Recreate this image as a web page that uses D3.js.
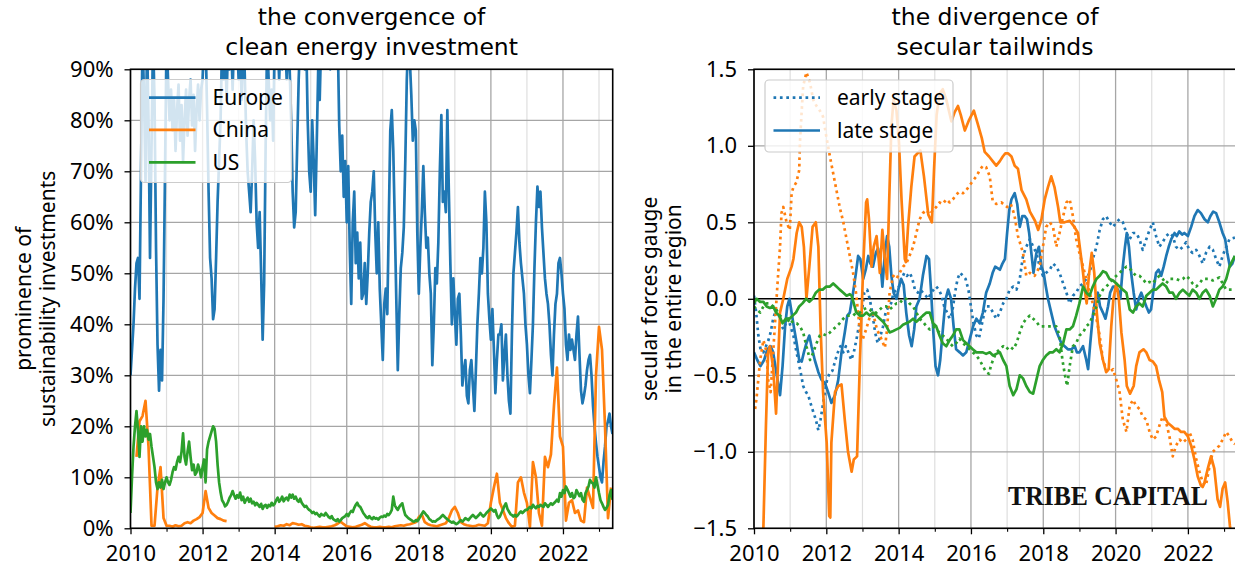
<!DOCTYPE html>
<html>
<head>
<meta charset="utf-8">
<script src="https://cdn.jsdelivr.net/npm/d3@7/dist/d3.min.js"></script>
<style>
html,body{margin:0;padding:0;background:#fff;}
svg{display:block;}
</style>
</head>
<body>
<svg id="chart" width="1235" height="567"></svg>
<script>
// ================= DATA =================
const majorYears = [2010, 2012, 2014, 2016, 2018, 2020, 2022];
const minorYears = [2011, 2013, 2015, 2017, 2019, 2021, 2023];
const leftTicks = [0, 10, 20, 30, 40, 50, 60, 70, 80, 90];
const rightTicks = [-1.5, -1.0, -0.5, 0, 0.5, 1.0, 1.5];
const leftTitle = ["the convergence of", "clean energy investment"];
const rightTitle = ["the divergence of", "secular tailwinds"];
const leftYLabel = ["prominence of", "sustainability investments"];
const rightYLabel = ["secular forces gauge", "in the entire region"];
const regions = ["Europe", "China", "US"];
const stages = ["early stage", "late stage"];
const brand = "TRIBE CAPITAL";

// Left panel (% share). Europe & US: twice a month from Jan 2010. China: monthly from Jan 2010.
const europeShare = [
 30,35,40,47,52,53,45,70,96,85,68,96,80,53,75,96,84,55,36,27,35,29,45,70,
 96,88,80,86,78,84,74,82,87,76,83,72,80,86,77,84,88,79,85,74,82,87,80,86,
 88,96,96,82,66,53,49,41,43,53,64,72,80,96,88,96,84,96,90,96,86,96,92,96,
 88,96,84,96,90,78,70,66,62,70,80,72,60,55,62,50,37,48,75,96,88,80,86,76,
 96,92,96,88,96,90,96,96,88,96,90,80,66,59,62,75,88,96,96,96,90,96,80,70,
 66,80,72,61.4,75,90,84,96,96,96,92,96,96,90,96,96,96,92,96,79,70,77,65,72,
 60,71,55,44,60,66,52,58,49,56,45,46,52,44,50,58,64,66,70,58,50,60,47,40,
 33,44,47,42,60,78,82,74,60,45,31,42,51,54,59,72,88,96,92,85,76,80,78,58,
 46,55,62,71,62,55,57,50,46,32,40,51,48,56,70,81,64,66,62,82,66,52,40,49,
 42,36,45,46,38,28,31,33,26,24.5,31,33,28,23,31,40,46,53,50,55,66,60,46,41,
 37,43,35,26.5,33,38,38,40,29,34,38,30,25,22.5,38,50,54,58,63,56,52,49,46,40,
 36,30,26.5,33,40,51,60,67,63,66,59,54,49,46,44,40,34,30,38,44,46,52,53,50,
 46,43,36,33,38,35,37,35,33,38,41.5,34,27,24.5,26,28,31,33,34,30,24,20,16.7,14,
 12,10,9,13,16,20,21,22.5,20,18.5
];
const chinaShare = [
 null,null,14,21,22,25,16,0.5,0.5,8,12,2,
 0.5,0.5,0.3,0.6,0.4,0.5,1.0,1.2,1.0,1.5,1.8,2.2,
 3,7.3,4,3,2.5,2,1.8,1.5,1.4,null,null,null,
 null,null,null,null,null,null,null,null,null,null,null,null,
 0.3,0.4,0.6,0.5,0.8,0.6,1.0,0.9,0.7,0.8,0.5,0.4,
 0.2,0.1,0.2,0.3,0.2,0.2,0.3,0.4,0.6,0.9,1.3,0.8,
 0.4,0.3,0.2,0.3,0.5,0.7,1.0,0.6,0.3,0.2,0.2,0.3,
 0.2,0.2,0.3,0.2,0.4,0.5,0.6,0.5,0.7,0.8,1.0,1.2,
 2.2,2.7,1.2,0.8,0.6,0.5,0.4,0.6,0.8,1.0,2.0,3.5,
 4.2,3.0,1.2,0.8,0.6,0.5,0.4,0.5,0.7,0.6,0.5,1.0,
 5,8,10.7,5,3.6,2,1,0.3,0.5,9,10,7,
 5,0.3,13,10,3,0.5,14,12,14.5,24,31.5,18,
 16,1.5,5,5.5,3,3.5,1.5,1.2,8,6,4,30,
 39.5,35,20,2,8
];
const usShare = [
 3,10,16,20,23,19,14,20,17,20,18,19.3,17.4,18.5,16,14,12,9,7.7,9,8,9.5,7.7,9,
 10,9,8.5,9.5,11,12,11.5,13,14,13,15,18.6,14,12.5,15,17,14,11.4,12.5,10.5,11,12.5,11.5,10,
 12,13.5,9,15.5,17,18,19,20,19.5,17,12.5,9,7,5.5,5,4.3,4.6,5.2,6,6.5,7.3,6.5,5.8,6.5,
 6,7,5.5,6.2,5,5.6,6,5.2,5.8,4.9,5.2,4.5,5,4.6,4.2,4.8,3.8,4.4,4.6,4.0,4.6,4.3,5.0,4.5,
 4.8,5.5,6.0,5.2,5.6,6.2,5.3,5.8,6.0,5.5,6.6,6.0,6.6,5.8,6.2,5.5,5.2,5.8,5.0,4.6,4.2,4.4,3.9,3.6,
 3.4,3.0,3.2,2.8,3.0,2.6,2.3,2.8,2.6,2.5,3.0,2.6,2.2,2.0,2.4,1.8,1.6,1.4,1.8,1.3,1.6,2.0,2.2,2.4,
 2.8,2.4,3.0,3.4,3.2,4.0,4.6,5.0,4.4,4.2,3.6,3.0,2.6,2.2,2.0,2.4,2.0,1.8,2.2,1.9,2.0,1.7,2.1,2.3,
 2.2,2.5,2.3,2.8,2.6,3.0,3.6,6.2,4.5,4.0,3.6,4.2,4.6,4.9,3.6,2.6,2.3,2.0,1.8,1.6,1.4,1.3,1.6,1.4,
 1.8,2.3,2.8,3.3,3.0,2.6,2.3,1.8,1.6,1.3,1.4,1.3,1.6,1.8,2.0,2.3,2.6,2.3,2.0,1.8,1.5,1.3,1.1,1.3,
 1.0,0.8,1.0,1.3,1.6,1.3,1.6,2.0,1.8,1.6,2.0,2.3,2.6,2.3,2.0,2.3,2.6,3.0,2.6,2.3,2.6,3.0,3.3,3.6,
 3.9,3.6,3.3,3.6,2.6,2.0,2.3,3.0,3.6,4.4,4.9,3.8,3.3,2.8,2.6,2.3,2.6,2.3,2.6,3.0,3.3,3.0,3.3,3.6,
 3.6,3.9,4.2,3.9,4.6,4.2,3.9,4.4,4.2,4.6,4.4,4.2,4.9,4.6,4.2,4.6,4.9,4.6,4.9,5.2,5.6,5.2,6.9,6.2,
 7.5,6.9,8.2,7.6,6.9,6.2,6.9,5.9,6.2,7.5,6.9,6.3,6.9,5.6,5.2,6.9,7.5,8.2,9.5,9.0,8.8,8.0,10,8.5,
 6.9,5.5,4.9,4.2,3.6,4.0,4.6,6.5,7.5,5.6
];

// Right panel: [year, gauge]
const europeEarly = [[2010.0,0.02],[2010.06,-0.09],[2010.12,-0.24],[2010.18,-0.33],[2010.26,-0.35],[2010.33,-0.31],[2010.4,-0.27],[2010.46,-0.22],[2010.53,-0.13],[2010.61,-0.07],[2010.67,-0.09],[2010.74,-0.16],[2010.81,-0.2],[2010.88,-0.16],[2010.95,-0.13],[2011.01,-0.18],[2011.09,-0.24],[2011.16,-0.33],[2011.22,-0.4],[2011.29,-0.48],[2011.36,-0.57],[2011.44,-0.61],[2011.5,-0.63],[2011.56,-0.68],[2011.64,-0.74],[2011.71,-0.79],[2011.78,-0.86],[2011.84,-0.79],[2011.9,-0.7],[2011.96,-0.61],[2012.02,-0.53],[2012.1,-0.48],[2012.17,-0.47],[2012.25,-0.4],[2012.32,-0.35],[2012.39,-0.31],[2012.47,-0.35],[2012.54,-0.31],[2012.61,-0.35],[2012.69,-0.4],[2012.76,-0.35],[2012.83,-0.27],[2012.9,-0.18],[2012.98,-0.09],[2013.05,0.04],[2013.13,0.06],[2013.2,0.0],[2013.27,-0.09],[2013.35,-0.22],[2013.42,-0.29],[2013.5,-0.24],[2013.57,-0.18],[2013.64,-0.09],[2013.72,-0.05],[2013.79,-0.03],[2013.86,0.04],[2013.94,0.06],[2014.01,0.08],[2014.08,0.13],[2014.16,0.17],[2014.23,0.15],[2014.31,0.17],[2014.38,0.13],[2014.45,0.06],[2014.53,0.04],[2014.6,0.06],[2014.67,0.04],[2014.75,0.02],[2014.82,0.0],[2014.9,0.04],[2014.97,0.06],[2015.04,0.08],[2015.11,0.06],[2015.19,0.02],[2015.26,-0.05],[2015.34,-0.09],[2015.41,-0.13],[2015.48,-0.09],[2015.56,0.04],[2015.63,0.13],[2015.7,0.17],[2015.78,0.15],[2015.85,0.13],[2015.93,0.06],[2016.0,-0.05],[2016.07,-0.16],[2016.15,-0.24],[2016.22,-0.26],[2016.29,-0.18],[2016.37,-0.09],[2016.44,-0.05],[2016.52,-0.05],[2016.61,-0.09],[2016.7,-0.13],[2016.8,-0.09],[2016.89,-0.03],[2016.98,0.0],[2017.07,0.06],[2017.17,0.08],[2017.26,0.06],[2017.35,0.13],[2017.44,0.28],[2017.53,0.34],[2017.63,0.39],[2017.72,0.34],[2017.81,0.3],[2017.9,0.21],[2017.99,0.15],[2018.08,0.17],[2018.18,0.19],[2018.27,0.23],[2018.36,0.21],[2018.45,0.17],[2018.55,0.1],[2018.64,0.04],[2018.73,-0.03],[2018.82,0.02],[2018.91,0.04],[2019.0,0.08],[2019.1,0.1],[2019.19,0.13],[2019.28,0.17],[2019.37,0.26],[2019.47,0.34],[2019.56,0.45],[2019.65,0.52],[2019.74,0.54],[2019.83,0.5],[2019.93,0.47],[2020.02,0.5],[2020.11,0.52],[2020.2,0.5],[2020.3,0.43],[2020.39,0.39],[2020.48,0.43],[2020.57,0.43],[2020.66,0.39],[2020.75,0.32],[2020.85,0.39],[2020.94,0.45],[2021.03,0.5],[2021.12,0.41],[2021.21,0.34],[2021.3,0.37],[2021.4,0.41],[2021.49,0.43],[2021.58,0.41],[2021.67,0.34],[2021.77,0.32],[2021.86,0.34],[2021.95,0.37],[2022.04,0.32],[2022.13,0.3],[2022.23,0.32],[2022.32,0.28],[2022.41,0.23],[2022.5,0.3],[2022.6,0.34],[2022.69,0.32],[2022.78,0.26],[2022.87,0.21],[2022.96,0.28],[2023.06,0.34],[2023.15,0.39],[2023.3,0.4]];
const europeLate = [[2010.0,-0.35],[2010.09,-0.4],[2010.18,-0.44],[2010.28,-0.4],[2010.37,-0.33],[2010.46,-0.31],[2010.53,-0.35],[2010.63,-0.5],[2010.72,-0.63],[2010.79,-0.44],[2010.86,-0.18],[2010.92,-0.05],[2010.98,0.0],[2011.04,-0.09],[2011.1,-0.18],[2011.18,-0.29],[2011.25,-0.4],[2011.32,-0.41],[2011.38,-0.35],[2011.45,-0.29],[2011.53,-0.24],[2011.59,-0.31],[2011.68,-0.4],[2011.78,-0.48],[2011.87,-0.53],[2011.96,-0.55],[2012.05,-0.61],[2012.14,-0.68],[2012.24,-0.63],[2012.33,-0.53],[2012.42,-0.35],[2012.51,-0.22],[2012.58,-0.11],[2012.65,-0.09],[2012.74,0.04],[2012.82,0.17],[2012.88,0.28],[2012.94,0.26],[2013.02,0.13],[2013.09,0.19],[2013.16,0.28],[2013.22,0.23],[2013.29,0.21],[2013.37,0.3],[2013.43,0.33],[2013.5,0.23],[2013.55,0.08],[2013.62,0.3],[2013.68,0.41],[2013.74,0.34],[2013.8,0.15],[2013.86,0.04],[2013.94,0.0],[2014.01,0.08],[2014.07,0.13],[2014.14,0.09],[2014.21,-0.09],[2014.29,-0.24],[2014.36,-0.31],[2014.43,-0.2],[2014.49,-0.05],[2014.58,0.0],[2014.67,0.15],[2014.77,0.28],[2014.84,0.26],[2014.9,0.04],[2014.96,-0.22],[2015.02,-0.44],[2015.09,-0.5],[2015.15,-0.4],[2015.23,-0.18],[2015.3,0.0],[2015.37,0.06],[2015.45,0.0],[2015.52,-0.18],[2015.59,-0.33],[2015.69,-0.35],[2015.78,-0.37],[2015.87,-0.35],[2015.96,-0.27],[2016.06,-0.18],[2016.15,-0.13],[2016.24,-0.16],[2016.33,-0.09],[2016.42,0.04],[2016.52,0.1],[2016.6,0.17],[2016.67,0.21],[2016.8,0.19],[2016.87,0.23],[2016.94,0.26],[2017.0,0.43],[2017.06,0.58],[2017.12,0.65],[2017.21,0.69],[2017.28,0.62],[2017.35,0.47],[2017.42,0.54],[2017.49,0.54],[2017.55,0.52],[2017.61,0.43],[2017.67,0.3],[2017.73,0.17],[2017.81,0.3],[2017.88,0.34],[2017.95,0.21],[2018.01,0.17],[2018.07,0.08],[2018.13,0.0],[2018.22,-0.09],[2018.31,-0.18],[2018.41,-0.24],[2018.5,-0.29],[2018.59,-0.31],[2018.68,-0.33],[2018.78,-0.33],[2018.87,-0.31],[2018.93,-0.35],[2019.0,-0.35],[2019.1,-0.31],[2019.19,-0.4],[2019.24,-0.46],[2019.3,-0.29],[2019.37,-0.11],[2019.44,0.0],[2019.51,0.04],[2019.57,-0.05],[2019.65,-0.09],[2019.72,-0.13],[2019.79,-0.05],[2019.85,0.04],[2019.93,0.08],[2020.0,0.08],[2020.06,0.06],[2020.13,0.0],[2020.2,0.21],[2020.26,0.34],[2020.31,0.43],[2020.37,0.34],[2020.43,0.17],[2020.5,0.04],[2020.57,-0.07],[2020.64,0.0],[2020.71,0.04],[2020.77,0.0],[2020.85,-0.05],[2020.92,-0.09],[2020.98,-0.07],[2021.05,0.06],[2021.12,0.17],[2021.19,0.19],[2021.26,0.15],[2021.33,0.21],[2021.4,0.28],[2021.47,0.34],[2021.54,0.39],[2021.63,0.43],[2021.69,0.41],[2021.76,0.44],[2021.84,0.42],[2021.9,0.43],[2022.0,0.41],[2022.09,0.47],[2022.18,0.54],[2022.27,0.58],[2022.36,0.56],[2022.46,0.52],[2022.55,0.5],[2022.62,0.54],[2022.7,0.57],[2022.78,0.56],[2022.87,0.5],[2022.96,0.43],[2023.03,0.39],[2023.09,0.3],[2023.16,0.21],[2023.23,0.23],[2023.3,0.28]];
const chinaEarly = [[2010.03,-0.72],[2010.07,-0.65],[2010.17,-0.4],[2010.26,-0.27],[2010.35,-0.35],[2010.39,-0.53],[2010.46,-0.61],[2010.53,-0.35],[2010.61,-0.05],[2010.67,0.17],[2010.72,0.34],[2010.76,0.56],[2010.81,0.6],[2010.9,0.5],[2010.99,0.45],[2011.04,0.69],[2011.09,0.73],[2011.17,0.76],[2011.25,0.84],[2011.27,1.02],[2011.32,1.23],[2011.36,1.39],[2011.45,1.48],[2011.55,1.41],[2011.64,1.3],[2011.73,1.26],[2011.82,1.23],[2011.91,1.19],[2012.0,1.06],[2012.1,0.93],[2012.19,0.82],[2012.28,0.71],[2012.37,0.6],[2012.47,0.5],[2012.56,0.39],[2012.65,0.28],[2012.74,0.17],[2012.82,0.04],[2012.88,-0.09],[2012.93,-0.22],[2013.0,-0.27],[2013.1,-0.2],[2013.2,-0.12],[2013.3,-0.1],[2013.4,-0.2],[2013.5,-0.25],[2013.62,-0.32],[2013.68,-0.2],[2013.75,0.04],[2013.85,0.15],[2013.94,0.13],[2014.03,0.17],[2014.12,0.21],[2014.21,0.23],[2014.3,0.28],[2014.4,0.34],[2014.49,0.43],[2014.58,0.52],[2014.67,0.56],[2014.77,0.58],[2014.86,0.55],[2014.95,0.58],[2015.04,0.6],[2015.13,0.63],[2015.22,0.62],[2015.32,0.65],[2015.41,0.63],[2015.5,0.65],[2015.59,0.68],[2015.68,0.7],[2015.78,0.69],[2015.87,0.71],[2015.96,0.74],[2016.05,0.77],[2016.15,0.8],[2016.24,0.84],[2016.33,0.87],[2016.42,0.86],[2016.52,0.8],[2016.6,0.64],[2016.7,0.62],[2016.84,0.63],[2017.0,0.6],[2017.1,0.62],[2017.2,0.55],[2017.3,0.41],[2017.44,0.3],[2017.53,0.15],[2017.63,0.17],[2017.76,0.15],[2017.9,0.21],[2017.99,0.34],[2018.08,0.47],[2018.18,0.5],[2018.27,0.47],[2018.36,0.34],[2018.45,0.43],[2018.55,0.54],[2018.64,0.63],[2018.73,0.65],[2018.82,0.54],[2018.91,0.39],[2019.0,0.3],[2019.1,0.21],[2019.19,0.13],[2019.28,0.04],[2019.37,-0.03],[2019.47,-0.13],[2019.56,-0.24],[2019.65,-0.4],[2019.74,-0.46],[2019.83,-0.48],[2019.93,-0.46],[2020.02,-0.53],[2020.11,-0.61],[2020.2,-0.79],[2020.3,-0.87],[2020.39,-0.7],[2020.48,-0.66],[2020.57,-0.7],[2020.66,-0.72],[2020.75,-0.77],[2020.85,-0.79],[2020.94,-0.87],[2021.03,-0.92],[2021.12,-0.9],[2021.21,-0.83],[2021.3,-0.77],[2021.4,-0.81],[2021.49,-0.9],[2021.58,-1.03],[2021.67,-0.96],[2021.77,-0.92],[2021.86,-0.94],[2021.95,-0.92],[2022.04,-0.87],[2022.13,-0.92],[2022.23,-1.05],[2022.32,-1.13],[2022.41,-1.2],[2022.5,-1.22],[2022.6,-1.09],[2022.69,-1.0],[2022.78,-0.98],[2022.87,-0.96],[2022.96,-0.92],[2023.06,-0.87],[2023.15,-0.9],[2023.24,-0.94],[2023.3,-0.95]];
const chinaLate = [[2009.95,-2.3],[2010.15,-1.9],[2010.26,-1.49],[2010.33,-0.83],[2010.39,-0.35],[2010.44,-0.31],[2010.53,-0.45],[2010.61,-0.75],[2010.72,-0.09],[2010.81,0.0],[2010.92,0.13],[2011.04,0.21],[2011.09,0.26],[2011.18,0.43],[2011.25,0.50],[2011.32,0.47],[2011.38,0.34],[2011.45,0.0],[2011.53,0.21],[2011.62,0.47],[2011.71,0.50],[2011.78,0.34],[2011.84,-0.18],[2011.91,-0.61],[2012.01,-0.94],[2012.08,-1.42],[2012.11,-1.43],[2012.14,-0.94],[2012.24,-0.61],[2012.33,-0.57],[2012.42,-0.56],[2012.51,-0.79],[2012.6,-1.0],[2012.7,-1.13],[2012.76,-1.05],[2012.85,-1.03],[2012.93,-0.4],[2013.02,0.21],[2013.1,0.63],[2013.13,0.65],[2013.18,0.52],[2013.25,0.21],[2013.31,0.34],[2013.39,0.41],[2013.48,0.17],[2013.55,0.45],[2013.62,0.26],[2013.68,0.13],[2013.74,0.65],[2013.8,1.13],[2013.86,1.30],[2013.94,1.23],[2014.01,1.02],[2014.08,0.65],[2014.17,0.26],[2014.2,0.24],[2014.26,0.47],[2014.35,0.73],[2014.44,0.93],[2014.6,0.97],[2014.7,0.8],[2014.82,0.55],[2014.92,0.5],[2014.98,0.85],[2015.05,1.2],[2015.13,1.34],[2015.22,1.37],[2015.32,1.3],[2015.46,1.16],[2015.55,1.22],[2015.64,1.26],[2015.72,1.2],[2015.83,1.1],[2015.95,1.17],[2016.08,1.23],[2016.18,1.15],[2016.3,1.05],[2016.38,0.96],[2016.5,0.93],[2016.6,0.9],[2016.7,0.87],[2016.8,0.9],[2016.88,0.93],[2016.95,0.95],[2017.03,0.95],[2017.12,0.93],[2017.21,0.87],[2017.3,0.85],[2017.4,0.71],[2017.53,0.65],[2017.63,0.57],[2017.77,0.51],[2017.86,0.45],[2017.95,0.52],[2018.04,0.65],[2018.13,0.73],[2018.22,0.8],[2018.31,0.73],[2018.41,0.6],[2018.47,0.5],[2018.59,0.5],[2018.73,0.51],[2018.86,0.47],[2018.96,0.43],[2019.02,0.32],[2019.1,0.17],[2019.17,0.02],[2019.2,-0.03],[2019.26,0.15],[2019.34,0.30],[2019.41,0.17],[2019.48,-0.09],[2019.56,-0.29],[2019.65,-0.4],[2019.74,-0.48],[2019.81,-0.46],[2019.88,-0.18],[2019.94,0.0],[2020.02,0.1],[2020.09,0.0],[2020.16,-0.22],[2020.25,-0.4],[2020.31,-0.57],[2020.4,-0.62],[2020.5,-0.57],[2020.57,-0.44],[2020.66,-0.35],[2020.77,-0.33],[2020.85,-0.35],[2020.94,-0.4],[2021.03,-0.41],[2021.12,-0.44],[2021.2,-0.53],[2021.29,-0.61],[2021.35,-0.77],[2021.44,-0.81],[2021.54,-0.83],[2021.63,-0.85],[2021.72,-0.85],[2021.81,-0.87],[2021.9,-0.87],[2022.0,-0.9],[2022.09,-0.96],[2022.18,-1.05],[2022.27,-1.16],[2022.36,-1.22],[2022.41,-1.23],[2022.46,-1.2],[2022.55,-1.11],[2022.64,-1.03],[2022.73,-1.11],[2022.82,-1.31],[2022.89,-1.36],[2022.96,-1.24],[2023.03,-1.2],[2023.1,-1.33],[2023.16,-1.48],[2023.25,-1.65]];
const usEarly = [[2010.0,-0.05],[2010.07,-0.07],[2010.17,-0.09],[2010.26,-0.05],[2010.35,-0.03],[2010.44,-0.03],[2010.53,-0.05],[2010.61,-0.07],[2010.72,-0.11],[2010.81,-0.13],[2010.9,-0.16],[2010.99,-0.13],[2011.09,-0.16],[2011.18,-0.16],[2011.27,-0.18],[2011.36,-0.22],[2011.45,-0.31],[2011.55,-0.4],[2011.64,-0.35],[2011.73,-0.29],[2011.82,-0.24],[2011.91,-0.23],[2012.0,-0.24],[2012.1,-0.22],[2012.19,-0.2],[2012.28,-0.18],[2012.37,-0.16],[2012.47,-0.13],[2012.56,-0.11],[2012.65,-0.11],[2012.74,-0.11],[2012.83,-0.09],[2012.93,-0.09],[2013.02,-0.07],[2013.11,-0.06],[2013.2,-0.07],[2013.29,-0.09],[2013.39,-0.09],[2013.48,-0.07],[2013.57,-0.05],[2013.66,-0.05],[2013.75,-0.07],[2013.85,-0.05],[2013.94,-0.03],[2014.03,-0.03],[2014.12,0.0],[2014.21,0.0],[2014.3,-0.03],[2014.4,-0.05],[2014.49,-0.09],[2014.58,-0.13],[2014.67,-0.15],[2014.77,-0.18],[2014.86,-0.2],[2014.95,-0.18],[2015.04,-0.2],[2015.13,-0.22],[2015.22,-0.24],[2015.32,-0.26],[2015.41,-0.29],[2015.5,-0.31],[2015.59,-0.29],[2015.68,-0.26],[2015.78,-0.29],[2015.87,-0.31],[2015.96,-0.33],[2016.05,-0.35],[2016.15,-0.37],[2016.24,-0.4],[2016.33,-0.44],[2016.42,-0.48],[2016.5,-0.49],[2016.55,-0.44],[2016.61,-0.4],[2016.7,-0.35],[2016.8,-0.33],[2016.89,-0.31],[2016.98,-0.33],[2017.07,-0.31],[2017.17,-0.33],[2017.26,-0.29],[2017.35,-0.22],[2017.44,-0.16],[2017.53,-0.13],[2017.63,-0.11],[2017.72,-0.13],[2017.81,-0.15],[2017.9,-0.18],[2017.99,-0.18],[2018.08,-0.18],[2018.18,-0.18],[2018.27,-0.18],[2018.36,-0.18],[2018.45,-0.24],[2018.53,-0.4],[2018.6,-0.5],[2018.66,-0.57],[2018.73,-0.44],[2018.82,-0.31],[2018.91,-0.29],[2019.0,-0.24],[2019.1,-0.22],[2019.19,-0.18],[2019.28,-0.16],[2019.37,-0.11],[2019.47,-0.05],[2019.56,0.02],[2019.65,0.06],[2019.74,0.08],[2019.83,0.1],[2019.93,0.13],[2020.02,0.15],[2020.11,0.17],[2020.2,0.19],[2020.3,0.21],[2020.39,0.2],[2020.48,0.17],[2020.57,0.15],[2020.66,0.15],[2020.75,0.13],[2020.85,0.1],[2020.94,0.11],[2021.03,0.1],[2021.12,0.13],[2021.21,0.15],[2021.3,0.13],[2021.4,0.1],[2021.49,0.13],[2021.58,0.13],[2021.67,0.13],[2021.77,0.12],[2021.86,0.13],[2021.95,0.15],[2022.04,0.13],[2022.13,0.1],[2022.23,0.08],[2022.32,0.1],[2022.41,0.13],[2022.5,0.13],[2022.6,0.13],[2022.69,0.12],[2022.78,0.13],[2022.87,0.14],[2022.96,0.1],[2023.06,0.06],[2023.15,0.06],[2023.3,0.06]];
const usLate = [[2010.0,-0.03],[2010.07,0.0],[2010.17,-0.02],[2010.26,-0.02],[2010.35,-0.05],[2010.44,-0.06],[2010.53,-0.05],[2010.61,-0.09],[2010.7,-0.11],[2010.79,-0.16],[2010.88,-0.13],[2010.98,-0.13],[2011.07,-0.11],[2011.16,-0.09],[2011.25,-0.05],[2011.34,-0.03],[2011.44,0.0],[2011.53,-0.02],[2011.62,0.0],[2011.71,0.04],[2011.8,0.06],[2011.9,0.06],[2012.0,0.08],[2012.1,0.08],[2012.19,0.1],[2012.28,0.08],[2012.37,0.06],[2012.47,0.04],[2012.56,0.02],[2012.65,0.03],[2012.7,0.02],[2012.76,-0.03],[2012.83,-0.09],[2012.93,-0.11],[2013.02,-0.11],[2013.11,-0.09],[2013.2,-0.11],[2013.29,-0.09],[2013.39,-0.11],[2013.48,-0.13],[2013.57,-0.15],[2013.66,-0.18],[2013.75,-0.22],[2013.85,-0.21],[2013.94,-0.2],[2014.03,-0.19],[2014.12,-0.17],[2014.21,-0.16],[2014.3,-0.15],[2014.4,-0.13],[2014.49,-0.15],[2014.58,-0.13],[2014.67,-0.11],[2014.77,-0.09],[2014.86,-0.09],[2014.95,-0.16],[2015.04,-0.18],[2015.13,-0.24],[2015.22,-0.29],[2015.32,-0.31],[2015.41,-0.27],[2015.5,-0.24],[2015.59,-0.2],[2015.68,-0.2],[2015.78,-0.27],[2015.87,-0.29],[2015.96,-0.31],[2016.05,-0.33],[2016.15,-0.35],[2016.24,-0.35],[2016.33,-0.35],[2016.42,-0.36],[2016.52,-0.35],[2016.61,-0.37],[2016.7,-0.36],[2016.8,-0.35],[2016.89,-0.4],[2016.98,-0.44],[2017.07,-0.57],[2017.17,-0.63],[2017.26,-0.59],[2017.35,-0.5],[2017.44,-0.52],[2017.53,-0.57],[2017.63,-0.61],[2017.72,-0.62],[2017.81,-0.53],[2017.9,-0.44],[2017.99,-0.4],[2018.08,-0.37],[2018.18,-0.35],[2018.27,-0.35],[2018.36,-0.33],[2018.45,-0.35],[2018.55,-0.29],[2018.64,-0.2],[2018.73,-0.2],[2018.82,-0.18],[2018.91,-0.11],[2019.0,-0.03],[2019.1,0.08],[2019.19,0.04],[2019.28,0.02],[2019.37,0.08],[2019.47,0.13],[2019.56,0.15],[2019.65,0.18],[2019.74,0.17],[2019.83,0.13],[2019.93,0.12],[2020.02,0.1],[2020.11,0.08],[2020.2,0.06],[2020.3,0.04],[2020.39,-0.07],[2020.48,-0.09],[2020.57,-0.05],[2020.66,-0.03],[2020.75,-0.05],[2020.85,0.02],[2020.94,0.04],[2021.03,0.06],[2021.12,0.06],[2021.21,0.08],[2021.3,0.1],[2021.4,0.08],[2021.49,0.04],[2021.58,0.04],[2021.67,0.0],[2021.77,0.04],[2021.86,0.06],[2021.95,0.04],[2022.04,0.02],[2022.13,0.06],[2022.23,0.04],[2022.32,0.0],[2022.41,0.04],[2022.5,0.06],[2022.6,0.02],[2022.69,-0.05],[2022.78,0.0],[2022.87,0.06],[2022.96,0.08],[2023.06,0.13],[2023.15,0.21],[2023.3,0.28]];

// ================= DRAWING =================
const FONT = '"Noto Sans", "DejaVu Sans", sans-serif';
const TFONT = '"DejaVu Sans", "Noto Sans", sans-serif';
const COL = {Europe: '#1f77b4', China: '#ff7f0e', US: '#2ca02c'};
const yTop = 69.3, yBot = 528.3;
const LW = 2.7;
const DOT = '2.7,3.7';

const svg = d3.select('#chart');
const defs = svg.append('defs');

const xL = d3.scaleLinear().domain([2010, 2023.38]).range([130.5, 612.7]);
const yL = d3.scaleLinear().domain([0, 90]).range([yBot, yTop]);
const xR = d3.scaleLinear().domain([2010, 2023.33]).range([754, 1236]);
const yR = d3.scaleLinear().domain([-1.5, 1.5]).range([yBot, yTop]);

function clip(id, x) {
  defs.append('clipPath').attr('id', id).append('rect')
    .attr('x', x.range()[0]).attr('y', yTop)
    .attr('width', x.range()[1] - x.range()[0]).attr('height', yBot - yTop);
}
clip('clipL', xL); clip('clipR', xR);

function grid(x, y, yTicks) {
  const g = svg.append('g');
  const [x0, x1] = x.range();
  g.selectAll('line.minor').data(minorYears.filter(d => x(d) < x1)).join('line')
    .attr('class', 'minor')
    .attr('x1', d => x(d)).attr('x2', d => x(d)).attr('y1', yTop).attr('y2', yBot)
    .attr('stroke', '#dedede').attr('stroke-width', 1.2);
  g.selectAll('line.major').data(majorYears).join('line')
    .attr('class', 'major')
    .attr('x1', d => x(d)).attr('x2', d => x(d)).attr('y1', yTop).attr('y2', yBot)
    .attr('stroke', '#a6a6a6').attr('stroke-width', 1.3);
  g.selectAll('line.h').data(yTicks).join('line')
    .attr('class', 'h')
    .attr('x1', x0).attr('x2', x1).attr('y1', d => y(d)).attr('y2', d => y(d))
    .attr('stroke', '#a6a6a6').attr('stroke-width', 1.3);
}

function axes(x, y, yTicks, fmt) {
  const gx = svg.append('g').attr('transform', `translate(0,${yBot})`)
    .call(d3.axisBottom(x).tickValues(majorYears).tickFormat(d3.format('d')).tickSize(6).tickPadding(11));
  gx.select('.domain').remove();
  gx.attr('font-size', 22).attr('font-family', FONT);
  gx.selectAll('line').attr('stroke', '#000').attr('stroke-width', 1.3);
  gx.selectAll('text').attr('fill', '#000');
  const gm = svg.append('g').attr('transform', `translate(0,${yBot})`)
    .call(d3.axisBottom(x).tickValues(minorYears.filter(d => x(d) < x.range()[1])).tickFormat('').tickSize(3.5));
  gm.select('.domain').remove();
  gm.selectAll('line').attr('stroke', '#000').attr('stroke-width', 1.1);

  const gy = svg.append('g').attr('transform', `translate(${x.range()[0]},0)`)
    .call(d3.axisLeft(y).tickValues(yTicks).tickFormat(fmt).tickSize(6).tickPadding(11));
  gy.select('.domain').remove();
  gy.attr('font-size', 22).attr('font-family', FONT);
  gy.selectAll('line').attr('stroke', '#000').attr('stroke-width', 1.3);
  gy.selectAll('text').attr('fill', '#000');
}

function frameBox(x) {
  svg.append('rect').attr('x', x.range()[0]).attr('y', yTop)
    .attr('width', x.range()[1] - x.range()[0]).attr('height', yBot - yTop)
    .attr('fill', 'none').attr('stroke', '#000').attr('stroke-width', 1.6);
}

function title(lines, cx) {
  lines.forEach((s, i) => svg.append('text').attr('x', cx).attr('y', 25 + i * 30)
    .attr('text-anchor', 'middle').attr('font-family', TFONT)
    .attr('font-size', 23.5).attr('fill', '#000').text(s));
}

function ylabel(lines, bx, cy) {
  const g = svg.append('g').attr('transform', `translate(${bx},${cy}) rotate(-90)`);
  lines.forEach((s, i) => g.append('text').attr('x', 0).attr('y', i * 24)
    .attr('text-anchor', 'middle').attr('font-family', FONT).attr('font-size', 21)
    .attr('fill', '#000').text(s));
}

function legend(bx, by, bw, bh, entries, lineX0, lineX1, textX, rowY) {
  const g = svg.append('g');
  g.append('rect').attr('x', bx).attr('y', by).attr('width', bw).attr('height', bh)
    .attr('rx', 4).attr('fill', '#fff').attr('fill-opacity', 0.8)
    .attr('stroke', '#cccccc').attr('stroke-width', 1.2);
  entries.forEach((e, i) => {
    g.append('line').attr('x1', lineX0).attr('x2', lineX1)
      .attr('y1', rowY[i]).attr('y2', rowY[i])
      .attr('stroke', e.color).attr('stroke-width', LW)
      .attr('stroke-dasharray', e.dash || null);
    g.append('text').attr('x', textX).attr('y', rowY[i]).attr('dy', '0.35em')
      .attr('font-family', FONT).attr('font-size', 21).attr('fill', '#000').text(e.label);
  });
}

// ---------- Left panel ----------
grid(xL, yL, leftTicks);
const lineL = d3.line().defined(d => d[1] != null).x(d => xL(d[0])).y(d => yL(d[1]));
const gL = svg.append('g').attr('clip-path', 'url(#clipL)');
const leftSeries = [
  {name: regions[0], pts: europeShare.map((v, i) => [2010 + i / 24, v])},
  {name: regions[1], pts: chinaShare.map((v, i) => [2010 + i / 12, v])},
  {name: regions[2], pts: usShare.map((v, i) => [2010 + i / 24, v])}
];
gL.selectAll('path').data(leftSeries).join('path')
  .attr('d', d => lineL(d.pts)).attr('fill', 'none')
  .attr('stroke', d => COL[d.name]).attr('stroke-width', LW)
  .attr('stroke-linejoin', 'round');
frameBox(xL);
axes(xL, yL, leftTicks, d => d + '%');
title(leftTitle, (xL.range()[0] + xL.range()[1]) / 2);
ylabel(leftYLabel, 31, (yTop + yBot) / 2);
legend(140.5, 79.5, 151, 103,
  regions.map(r => ({label: r, color: COL[r]})),
  149, 195.5, 212.5, [97.7, 129.8, 162.3]);

// ---------- Right panel ----------
grid(xR, yR, rightTicks.filter(d => d !== 0));
svg.append('line').attr('x1', xR.range()[0]).attr('x2', xR.range()[1])
  .attr('y1', yR(0)).attr('y2', yR(0)).attr('stroke', '#000').attr('stroke-width', 1.4);
const lineR = d3.line().x(d => xR(d[0])).y(d => yR(d[1]));
const gR = svg.append('g').attr('clip-path', 'url(#clipR)');
const rightSeries = [
  {name: regions[0], dash: DOT, pts: europeEarly},
  {name: regions[0], dash: null, pts: europeLate},
  {name: regions[1], dash: DOT, pts: chinaEarly},
  {name: regions[1], dash: null, pts: chinaLate},
  {name: regions[2], dash: DOT, pts: usEarly},
  {name: regions[2], dash: null, pts: usLate}
];
gR.selectAll('path').data(rightSeries).join('path')
  .attr('d', d => lineR(d.pts)).attr('fill', 'none')
  .attr('stroke', d => COL[d.name]).attr('stroke-width', LW)
  .attr('stroke-dasharray', d => d.dash)
  .attr('stroke-linejoin', 'round');
frameBox(xR);
axes(xR, yR, rightTicks, d3.format('.1f'));
title(rightTitle, (xR.range()[0] + xR.range()[1]) / 2);
ylabel(rightYLabel, 657, (yTop + yBot) / 2);
legend(765, 80, 188, 72,
  [{label: stages[0], color: COL.Europe, dash: DOT}, {label: stages[1], color: COL.Europe}],
  773.5, 820, 837, [97.7, 130.5]);

svg.append('text').attr('x', 1008).attr('y', 505)
  .attr('font-family', '"Liberation Serif", "DejaVu Serif", serif')
  .attr('font-weight', 'bold').attr('font-size', 27)
  .attr('textLength', 200).attr('lengthAdjust', 'spacingAndGlyphs')
  .attr('fill', '#111').text(brand);
</script>
</body>
</html>
